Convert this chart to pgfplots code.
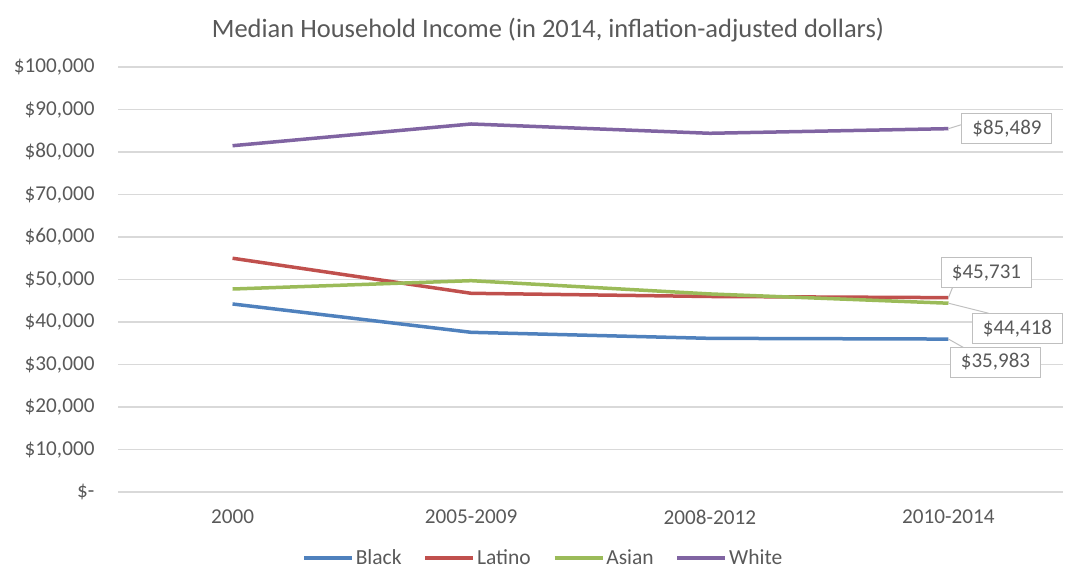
\documentclass[border=0pt]{standalone}
\usepackage{fontspec}
\setmainfont{Carlito}
\usepackage{pgfplots}
\pgfplotsset{compat=1.18}
\definecolor{cBlack}{HTML}{4F81BD}
\definecolor{cLatino}{HTML}{C0504D}
\definecolor{cAsian}{HTML}{9BBB59}
\definecolor{cWhite}{HTML}{8064A2}
\definecolor{txt}{HTML}{595959}
\definecolor{gridc}{HTML}{D9D9D9}
\definecolor{boxc}{HTML}{BFBFBF}
\begin{document}
\begin{tikzpicture}[x=1bp,y=1bp]
\useasboundingbox (0,0) rectangle (1076,568);
\node[font=\fontsize{26.5bp}{30bp}\selectfont, text=txt] at (548,538) {Median Household Income (in 2014, inflation-adjusted dollars)};
\begin{axis}[
  at={(118bp,76bp)}, anchor=south west,
  scale only axis, width=945bp, height=425bp,
  xmin=-0.48, xmax=3.48, ymin=0, ymax=100000,
  scaled y ticks=false,
  xtick={0,1,2,3},
  xticklabels={2000,2005-2009,2008-2012,2010-2014},
  ytick={0,10000,20000,30000,40000,50000,60000,70000,80000,90000,100000},
  yticklabels={{\$-\hspace{8bp}},{\$10,000},{\$20,000},{\$30,000},{\$40,000},{\$50,000},{\$60,000},{\$70,000},{\$80,000},{\$90,000},{\$100,000}},
  axis line style={draw=none},
  major tick length=0pt,
  ymajorgrids, grid style={draw=gridc, line width=1.2bp},
  tick label style={font=\fontsize{21.2bp}{24bp}\selectfont, text=txt},
  yticklabel style={anchor=east, xshift=-20bp},
  xticklabel style={anchor=center, yshift=-25bp},
  legend style={at={(0.45,-0.155)}, anchor=center, draw=none, fill=none,
    legend columns=4, font=\fontsize{21.5bp}{24bp}\selectfont, text=txt,
    /tikz/every even column/.append style={column sep=20bp},
    /tikz/every odd column/.append style={column sep=0bp}},
  legend cell align=left,
  legend image code/.code={\draw[#1, line width=3.5bp] (-4bp,0bp) -- (44bp,0bp);},
  every axis plot/.append style={line width=3.5bp, line join=round},
  clip=false,
]
\addplot[cBlack] coordinates {(0,44240) (1,37570) (2,36150) (3,35983)};
\addlegendentry{Black}
\addplot[cLatino] coordinates {(0,55000) (1,46750) (2,46000) (3,45731)};
\addlegendentry{Latino}
\addplot[cAsian] coordinates {(0,47760) (1,49720) (2,46600) (3,44418)};
\addlegendentry{Asian}
\addplot[cWhite] coordinates {(0,81480) (1,86590) (2,84400) (3,85489)};
\addlegendentry{White}
\tikzset{lbl/.style={draw=boxc, fill=white, text=txt, font=\fontsize{21bp}{24bp}\selectfont, minimum width=90bp, minimum height=30bp, inner sep=2bp, line width=1bp}}
\draw[boxc, line width=1bp] (axis cs:3,85489) -- ++(13bp,4bp);
\node[lbl, anchor=west, xshift=13bp] at (axis cs:3,85489) {\$85,489};
\draw[boxc, line width=1bp] (axis cs:3,45731) -- ++(4bp,10bp);
\node[lbl, xshift=38bp, yshift=25bp] at (axis cs:3,45731) {\$45,731};
\draw[boxc, line width=1bp] (axis cs:3,44418) -- ++(40bp,-10bp);
\node[lbl, xshift=69bp, yshift=-25bp] at (axis cs:3,44418) {\$44,418};
\draw[boxc, line width=1bp] (axis cs:3,35983) -- ++(16bp,-9bp);
\node[lbl, xshift=47bp, yshift=-23bp] at (axis cs:3,35983) {\$35,983};
\end{axis}
\end{tikzpicture}
\end{document}
